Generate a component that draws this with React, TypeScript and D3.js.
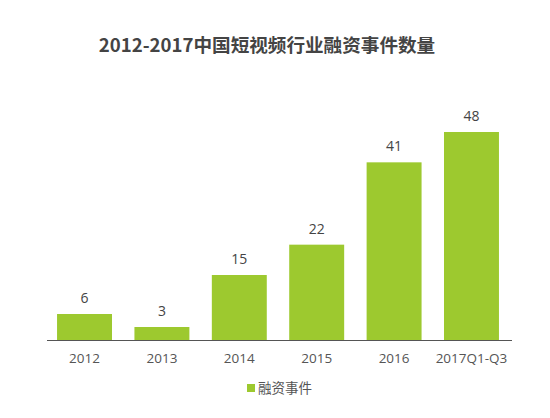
import React, { useEffect, useRef } from "react";
import * as d3 from "d3";

const title = "2012-2017中国短视频行业融资事件数量";
const categories = ["2012", "2013", "2014", "2015", "2016", "2017Q1-Q3"];
const values = [6, 3, 15, 22, 41, 48];
const seriesName = "融资事件";

function App() {
  const ref = useRef<SVGSVGElement | null>(null);
  const width = 550;
  const height = 418;
  const baseline = 340;
  const color = "#9dc92f";
  const font = "'Noto Sans CJK SC', 'Noto Sans', sans-serif";
  const numFont = "'Open Sans', 'Noto Sans', sans-serif";

  useEffect(() => {
    const x = d3
      .scaleBand<string>()
      .domain(categories)
      .range([34.6, 521.4])
      .paddingInner(0.29)
      .paddingOuter(0.29);

    // 48 -> ~207px tall
    const y = d3.scaleLinear().domain([0, 48]).range([baseline, 132]);

    const svg = d3.select(ref.current);
    svg.selectAll("*").remove();
    svg
      .attr("width", width)
      .attr("height", height)
      .attr("viewBox", [0, 0, width, height])
      .style("font-family", font);

    svg
      .append("rect")
      .attr("width", width)
      .attr("height", height)
      .attr("fill", "#ffffff");

    svg
      .append("text")
      .attr("x", 267)
      .attr("y", 45)
      .attr("dy", "0.35em")
      .attr("text-anchor", "middle")
      .attr("font-size", 18.6)
      .attr("font-weight", "bold")
      .attr("fill", "#444")
      .text(title);

    // bars
    svg
      .append("g")
      .selectAll("rect")
      .data(values)
      .join("rect")
      .attr("x", (_, i) => x(categories[i]) as number)
      .attr("width", x.bandwidth())
      .attr("y", (d) => y(d))
      .attr("height", (d) => baseline - y(d))
      .attr("fill", color);

    // value labels
    svg
      .append("g")
      .attr("text-anchor", "middle")
      .style("font-family", numFont)
      .attr("font-size", 14)
      .attr("fill", "#444")
      .selectAll("text")
      .data(values)
      .join("text")
      .attr("x", (_, i) => (x(categories[i]) as number) + x.bandwidth() / 2)
      .attr("y", (d) => y(d) - 16)
      .attr("dy", "0.35em")
      .text((d) => d);

    // axis
    const axis = svg
      .append("g")
      .attr("transform", `translate(0,${baseline})`)
      .call(d3.axisBottom(x).tickSize(0).tickPadding(13));
    axis.attr("font-family", null).attr("font-size", null);
    axis.select(".domain").attr("stroke", "#555").attr("d", "M47,0.5H512");
    axis
      .selectAll("text")
      .style("font-family", numFont)
      .style("font-size", "13.5px")
      .attr("fill", "#555");

    // legend
    const legend = svg.append("g").attr("transform", "translate(247,384)");
    legend.append("rect").attr("width", 8).attr("height", 8).attr("fill", color);
    legend
      .append("text")
      .attr("x", 11)
      .attr("y", 4)
      .attr("dy", "0.35em")
      .attr("font-size", 13.5)
      .attr("fill", "#555")
      .text(seriesName);
  }, []);

  return (
    <svg
      ref={ref}
      style={{ position: "absolute", left: 0, top: 0, display: "block" }}
    ></svg>
  );
}

export default App;
